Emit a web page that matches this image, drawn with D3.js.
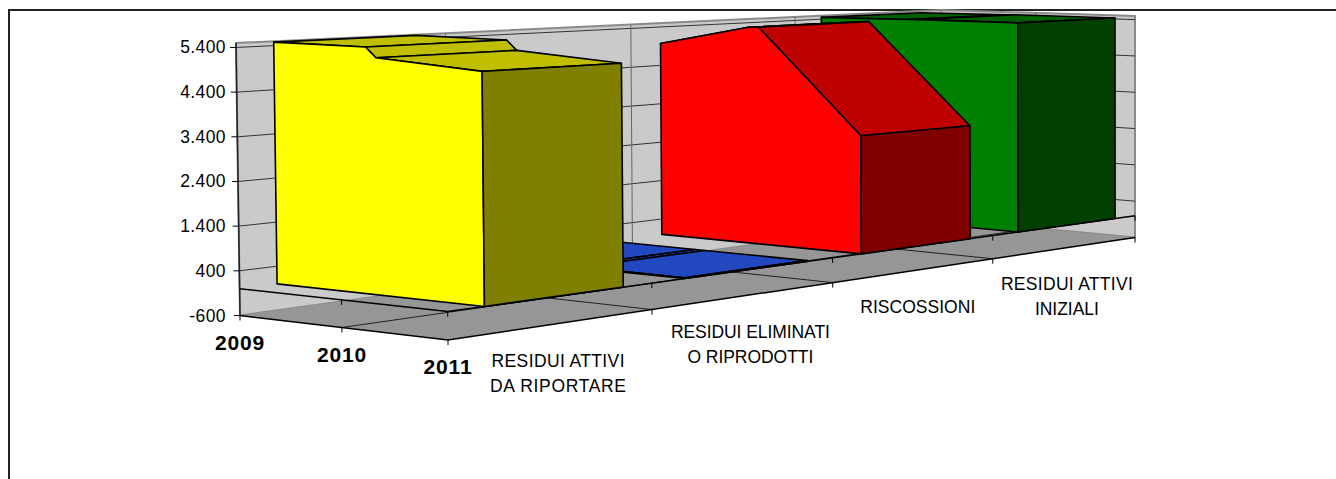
<!DOCTYPE html>
<html>
<head>
<meta charset="utf-8">
<style>
    body { margin: 0; background: #fff; }
    text { font-family: "Liberation Sans", Arial, sans-serif; fill: #000; }
    .tick-label { font-size: 17.5px; letter-spacing: 0.4px; text-anchor: end; }
    .year-label { font-size: 21px; font-weight: bold; letter-spacing: 0.8px; text-anchor: middle; }
    .cat-label { font-size: 17.5px; text-anchor: middle; }
</style>
</head>
<body>
<svg id="chart"></svg>
<script src="https://cdnjs.cloudflare.com/ajax/libs/d3/7.8.5/d3.min.js"></script>
<script>
const years = [2009, 2010, 2011];
// the areas have a short step just before the 2010 mark
const profileYears = [2009, 2009.9, 2010, 2011];
const categories = [
    ['RESIDUI ATTIVI', 'DA RIPORTARE'],
    ['RESIDUI ELIMINATI', 'O RIPRODOTTI'],
    ['RISCOSSIONI'],
    ['RESIDUI ATTIVI', 'INIZIALI']
];
const yellowValues = [5480, 5450, 5220, 5025];
const blueValues = [20, 20, 20, 20];
const redValues = [4970, 5470, 5485, 2900];
const greenValues = [5450, 5470, 5475, 5475];
const tickValues = [-600, 400, 1400, 2400, 3400, 4400, 5400];

const seriesValues = [yellowValues, blueValues, redValues, greenValues];
const seriesColors = [
    { side: '#ffff00', top: '#bfbf00', front: '#808000' },
    { side: '#2e60ff', top: '#2248c0', front: '#112460' },
    { side: '#ff0000', top: '#bf0000', front: '#800000' },
    { side: '#008000', top: '#006000', front: '#004000' }
];
const labelWidths = [[133, 136], [159, 126], [115], [132, 64]];
const labelNudge = [8, 8, 5, 3];

const width = 1336;
const height = 479;

// corners of the box on screen: left, front, right and back, at the floor and at the ceiling
const floorBox = { left: [240, 315.5], front: [448, 340], right: [1135, 237.5], back: [941, 219] };
const ceilBox = { left: [236, 43], front: [445, 51], right: [1135, 16], back: [941, 10] };

// nearer categories are drawn wider, so the slots are not even
const catScale = d3.scaleLinear().domain([0, 1, 2, 3, 4]).range([0, 0.297, 0.56, 0.793, 1]);
const yearScale = d3.scaleLinear().domain([2009, 2010, 2011]).range([0, 0.49, 1]);
const valueScale = d3.scaleLinear().domain([-600, 5500]).range([0, 1]);

function lerp(a, b, t) {
    return [a[0] + (b[0] - a[0]) * t, a[1] + (b[1] - a[1]) * t];
}

function boxPoint(box, u, v) {
    return lerp(lerp(box.left, box.back, u), lerp(box.front, box.right, u), v);
}

// cat: 0..4 along the right axis, year: along the left axis, value: height
function project(cat, year, value) {
    const u = catScale(cat), v = yearScale(year);
    return lerp(boxPoint(floorBox, u, v), boxPoint(ceilBox, u, v), valueScale(value));
}

const polygon = d3.line().curve(d3.curveLinearClosed);
const line = d3.line();

const svg = d3.select('#chart')
    .attr('width', width)
    .attr('height', height)
    .style('display', 'block');

// frame of the embedded picture, cut off at right and bottom
svg.append('path')
    .attr('d', line([[9, height], [9, 10], [width, 10]]))
    .attr('fill', 'none')
    .attr('stroke', '#222')
    .attr('stroke-width', 2);

const yMax = valueScale.domain()[1];
const yMin = valueScale.domain()[0];

// walls
const wallPts = [
    project(0, 2009, yMin), project(0, 2009, yMax), project(4, 2009, yMax),
    project(4, 2011, yMax), project(4, 2011, yMin), project(4, 2009, yMin)
];
svg.append('path')
    .attr('d', polygon(wallPts))
    .attr('fill', '#cacaca')
    .attr('stroke', '#8a8a8a')
    .attr('stroke-width', 2);

// wall gridlines
const wallLines = [];
tickValues.slice(1).forEach(v => {
    wallLines.push([project(0, 2009, v), project(4, 2009, v), project(4, 2011, v)]);
});
svg.append('g').selectAll('path')
    .data(wallLines)
    .enter().append('path')
    .attr('d', d => line(d))
    .attr('fill', 'none')
    .attr('stroke', '#333')
    .attr('stroke-width', 1);

const wallVerticals = [1, 2, 3, 4].map(c => [project(c, 2009, yMin), project(c, 2009, yMax)])
    .concat([[project(4, 2010, yMin), project(4, 2010, yMax)]]);
svg.append('g').selectAll('path')
    .data(wallVerticals)
    .enter().append('path')
    .attr('d', d => line(d))
    .attr('stroke', '#666')
    .attr('stroke-width', 1);

// floor
svg.append('path')
    .attr('d', polygon([project(0, 2009, yMin), project(0, 2011, yMin), project(4, 2011, yMin), project(4, 2009, yMin)]))
    .attr('fill', '#969696');

const floorLines = [1, 2, 3].map(c => [project(c, 2009, yMin), project(c, 2011, yMin)])
    .concat([[project(0, 2010, yMin), project(4, 2010, yMin)]]);
svg.append('g').selectAll('path')
    .data(floorLines)
    .enter().append('path')
    .attr('d', d => line(d))
    .attr('stroke', '#222')
    .attr('stroke-width', 1);

// axes: one pair on the floor, one pair at value zero
[yMin, 0].forEach(v => {
    svg.append('path')
        .attr('d', line([project(0, 2009, v), project(0, 2011, v), project(4, 2011, v)]))
        .attr('fill', 'none')
        .attr('stroke', '#000')
        .attr('stroke-width', 1.5);

    const ticks = years.map(y => project(0, y, v))
        .concat([1, 2, 3, 4].map(c => project(c, 2011, v)));
    svg.append('g').selectAll('path')
        .data(ticks)
        .enter().append('path')
        .attr('d', d => line([d, [d[0], d[1] + 5]]))
        .attr('stroke', '#000')
        .attr('stroke-width', 1);
});

// value axis
svg.append('path')
    .attr('d', line([project(0, 2009, yMin), project(0, 2009, yMax)]))
    .attr('stroke', '#222')
    .attr('stroke-width', 1.5);

svg.append('g').selectAll('path')
    .data(tickValues)
    .enter().append('path')
    .attr('d', d => {
        const p = project(0, 2009, d);
        return line([[p[0] - 6, p[1]], p]);
    })
    .attr('stroke', '#000')
    .attr('stroke-width', 1);

// areas, far one first so the nearer ones cover it
const slabStart = 0.18;
const slabEnd = 0.86;

function slabFaces(values, index) {
    const x0 = index + slabStart, x1 = index + slabEnd;
    const colors = seriesColors[index];
    const faces = [];
    for (let i = 0; i < profileYears.length - 1; i++) {
        const ya = profileYears[i], yb = profileYears[i + 1];
        faces.push({
            fill: colors.top,
            pts: [project(x0, ya, values[i]), project(x1, ya, values[i]), project(x1, yb, values[i + 1]), project(x0, yb, values[i + 1])]
        });
    }
    faces.push({
        fill: colors.side,
        pts: profileYears.map((y, i) => project(x0, y, values[i]))
            .concat([project(x0, 2011, 0), project(x0, 2009, 0)])
    });
    const last = values.length - 1;
    faces.push({
        fill: colors.front,
        pts: [project(x0, 2011, values[last]), project(x1, 2011, values[last]), project(x1, 2011, 0), project(x0, 2011, 0)]
    });
    return faces;
}

const drawOrder = [3, 2, 1, 0];
svg.append('g').selectAll('g')
    .data(drawOrder)
    .enter().append('g')
    .selectAll('path')
    .data(i => slabFaces(seriesValues[i], i))
    .enter().append('path')
    .attr('d', d => polygon(d.pts))
    .attr('fill', d => d.fill)
    .attr('stroke', '#000')
    .attr('stroke-width', 1.6)
    .attr('stroke-linejoin', 'round');

// labels
const tickFormat = d3.formatLocale({ decimal: ',', thousands: '.', grouping: [3], currency: ['', ''], minus: '-' }).format(',d');

svg.append('g').selectAll('text')
    .data(tickValues)
    .enter().append('text')
    .attr('class', 'tick-label')
    .attr('x', 226)
    .attr('y', d => project(0, 2009, d)[1] + 6)
    .text(d => tickFormat(d));

svg.append('g').selectAll('text')
    .data(years)
    .enter().append('text')
    .attr('class', 'year-label')
    .attr('x', d => project(0, d, yMin)[0])
    .attr('y', d => project(0, d, yMin)[1] + 34)
    .text(d => d);

const catGroups = svg.append('g').selectAll('g')
    .data(categories)
    .enter().append('g')
    .attr('transform', (d, i) => {
        const p = project(i + 0.5, 2011, yMin);
        return `translate(${p[0] + labelNudge[i]},${p[1] + 42})`;
    });

catGroups.selectAll('text')
    .data((d, i) => d.map((t, j) => ({ t, j, w: labelWidths[i][j] })))
    .enter().append('text')
    .attr('class', 'cat-label')
    .attr('y', d => d.j * 25)
    .attr('textLength', d => d.w)
    .attr('lengthAdjust', 'spacing')
    .text(d => d.t);
</script>
</body>
</html>
